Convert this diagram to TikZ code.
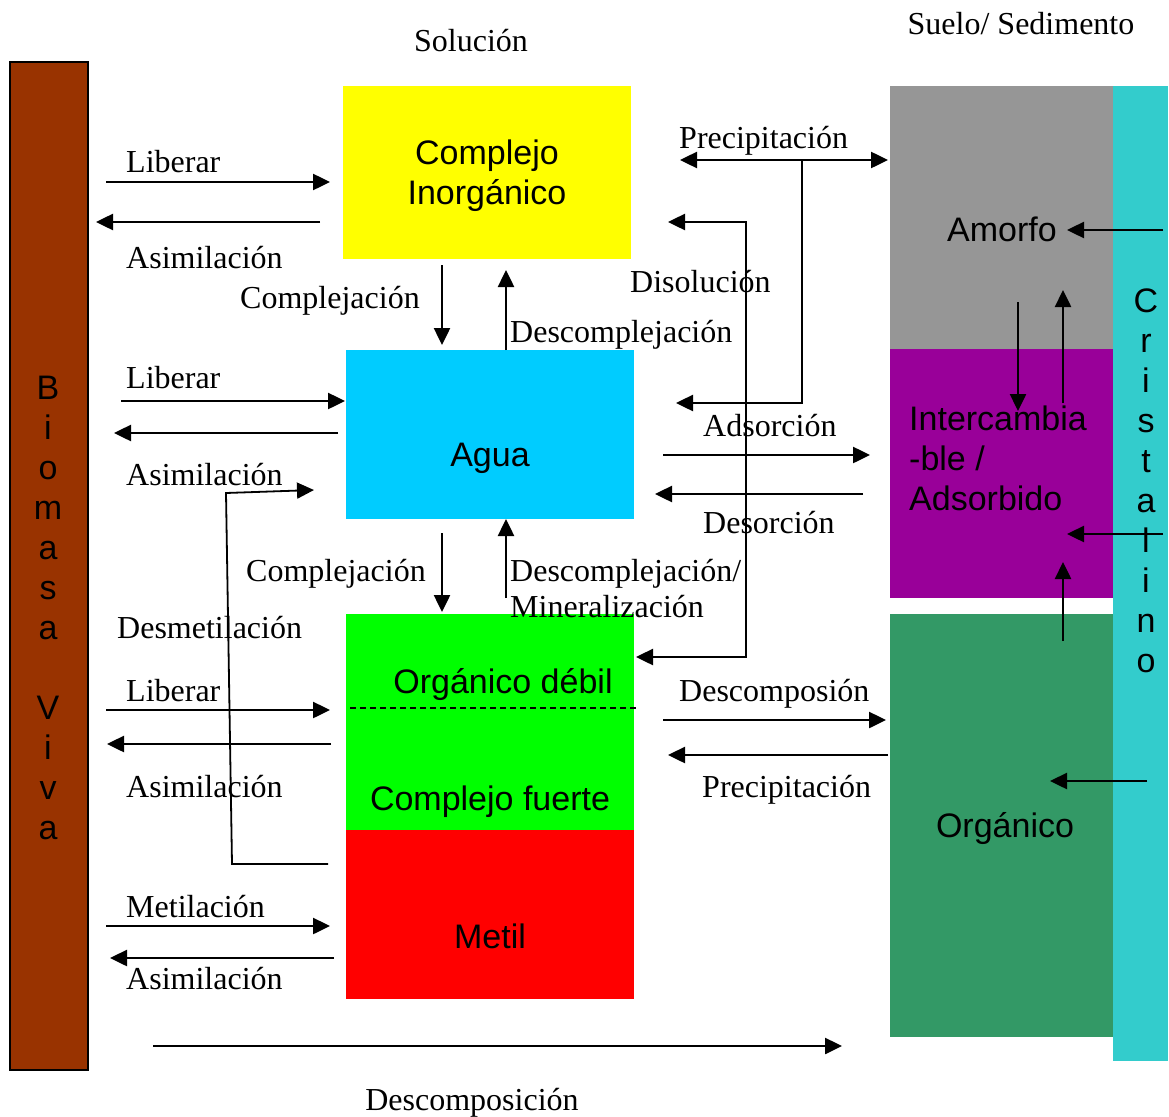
\documentclass[tikz,border=0pt]{standalone}
\usepackage{fontspec}
\setmainfont{Liberation Serif}
\setsansfont{Liberation Sans}
\usetikzlibrary{arrows.meta}

\definecolor{biomasa}{HTML}{993300}
\definecolor{amorfo}{HTML}{969696}
\definecolor{intercambio}{HTML}{990099}
\definecolor{organico}{HTML}{339966}
\definecolor{cristal}{HTML}{33CCCC}
\definecolor{agua}{HTML}{00CCFF}
\definecolor{amarillo}{HTML}{FFFF00}
\definecolor{verde}{HTML}{00FF00}
\definecolor{rojo}{HTML}{FF0000}

\tikzset{
  punta/.tip={Triangle[length=17pt,width=16pt]},
  flecha/.style={line width=2.5pt, -punta},
  caja/.style={inner sep=0pt, outer sep=0pt, anchor=north west},
  rotulo/.style={font=\fontsize{32}{36}\selectfont, inner sep=0pt, anchor=base west},
  titulo/.style={font=\fontsize{32}{36}\selectfont, inner sep=0pt, anchor=base},
  texto/.style={font=\sffamily\fontsize{34}{40}\selectfont, inner sep=0pt},
  letra/.style={font=\sffamily\fontsize{34}{40}\selectfont, inner sep=0pt, anchor=base},
}

\begin{document}
\begin{tikzpicture}[x=1pt,y=-1pt]
\useasboundingbox (0,0) rectangle (1169,1116);

% boxes
\node[caja, fill=biomasa, draw=black, line width=2pt, minimum width=78, minimum height=1008] (biomasa) at (10,62) {};
\node[caja, fill=amarillo, minimum width=288, minimum height=173] (inorg) at (343,86) {};
\node[caja, fill=agua, minimum width=288, minimum height=169] (agua) at (346,350) {};
\node[caja, fill=verde, minimum width=288, minimum height=216] (debil) at (346,614) {};
\node[caja, fill=cristal, minimum width=55, minimum height=975] (cristal) at (1113,86) {};
\node[caja, fill=amorfo, minimum width=223, minimum height=263] (amorfo) at (890,86) {};
\node[caja, fill=intercambio, minimum width=223, minimum height=249] (adsorb) at (890,349) {};
\node[caja, fill=organico, minimum width=223, minimum height=423] (organico) at (890,614) {};
\draw[dash pattern=on 6pt off 4pt, line width=1.5pt] (350,708) -- (638,708); % weak / strong split

% box texts
\node[texto, align=center] (tinorg) at (487,176) {Complejo\\Inorgánico};
\node[texto] (tagua) at (490,458) {Agua};
\node[texto] (tdebil) at (503,685) {Orgánico débil};
\node[texto] (tfuerte) at (490,802) {Complejo fuerte};
\node[texto] (tfuerte2) at (490,852) {débil}; % hidden under Metil
\node[caja, fill=rojo, minimum width=288, minimum height=169] (metil) at (346,830) {};
\node[texto] (tmetil) at (490,936) {Metil};
\node[texto] (tamorfo) at (1002,229) {Amorfo};
\node[texto, align=left, anchor=west] (tadsorb) at (909,458) {Intercambia\\-ble /\\Adsorbido};
\node[texto] (torganico) at (1005,828) {Orgánico};
\foreach \c [count=\i from 0] in {B,i,o,m,a,s,a,{},V,i,v,a}
  \node[letra] (bio\i) at (48,399+40*\i) {\c}; % Biomasa Viva
\foreach \c [count=\i from 0] in {C,r,i,s,t,a,l,i,n,o}
  \node[letra] (cri\i) at (1146,312+40*\i) {\c}; % Cristalino

% titles
\node[titulo] (solucion) at (471,52) {Solución};
\node[titulo] (suelo) at (1021,35) {Suelo/ Sedimento};
\node[titulo] (descomp) at (472,1110) {Descomposición};

% labels left
\node[rotulo] (lib1) at (126,172) {Liberar};
\node[rotulo] (asi1) at (126,268) {Asimilación};
\node[rotulo] (lib2) at (126,388) {Liberar};
\node[rotulo] (asi2) at (126,485) {Asimilación};
\node[rotulo] (desmet) at (117,638) {Desmetilación};
\node[rotulo] (lib3) at (126,701) {Liberar};
\node[rotulo] (asi3) at (126,797) {Asimilación};
\node[rotulo] (met) at (126,917) {Metilación};
\node[rotulo] (asi4) at (126,989) {Asimilación};

% labels middle
\node[rotulo] (comp1) at (240,308) {Complejación};
\node[rotulo] (desc1) at (510,342) {Descomplejación};
\node[rotulo] (comp2) at (246,581) {Complejación};
\node[rotulo] (desc2) at (510,581) {Descomplejación/};
\node[rotulo] (miner) at (510,617) {Mineralización};

% labels right
\node[rotulo] (prec1) at (679,148) {Precipitación};
\node[rotulo] (disol) at (630,292) {Disolución};
\node[rotulo] (adsor) at (703,436) {Adsorción};
\node[rotulo] (desor) at (703,533) {Desorción};
\node[rotulo] (descp) at (679,701) {Descomposión};
\node[rotulo] (prec2) at (702,797) {Precipitación};

% biomass arrows
\draw[flecha] (106,182) -- (330,182);
\draw[flecha] (320,222) -- (96,222);
\draw[flecha] (121,401) -- (345,401);
\draw[flecha] (338,433) -- (114,433);
\draw[flecha] (106,710) -- (330,710);
\draw[flecha] (331,744) -- (107,744);
\draw[flecha] (106,926) -- (330,926);
\draw[flecha] (334,958) -- (110,958);
\draw[flecha, line width=1.8pt] (328,864) -- (232,864) -- (226,493) -- (314,490); % demethylation
\draw[flecha] (153,1046) -- (842,1046); % decomposition

% complexation arrows
\draw[flecha] (442,265) -- (442,345);
\draw[flecha] (506,350) -- (506,270);
\draw[flecha] (442,533) -- (442,612);
\draw[flecha] (506,598) -- (506,519);

% solution - soil arrows
\draw[flecha, punta-punta] (680,160) -- (888,160);
\draw[flecha] (802,160) -- (802,403) -- (676,403);
\draw[flecha, punta-punta] (668,222) -- (746,222) -- (746,657) -- (636,657); % dissolution
\draw[flecha] (663,455) -- (870,455);
\draw[flecha] (863,494) -- (655,494);
\draw[flecha] (663,720) -- (886,720);
\draw[flecha] (888,755) -- (668,755);

% soil arrows
\draw[flecha] (1163,230) -- (1067,230);
\draw[flecha] (1018,302) -- (1018,411);
\draw[flecha] (1063,403) -- (1063,290);
\draw[flecha] (1163,534) -- (1067,534);
\draw[flecha] (1063,641) -- (1063,562);
\draw[flecha] (1147,781) -- (1050,781);
\end{tikzpicture}
\end{document}
